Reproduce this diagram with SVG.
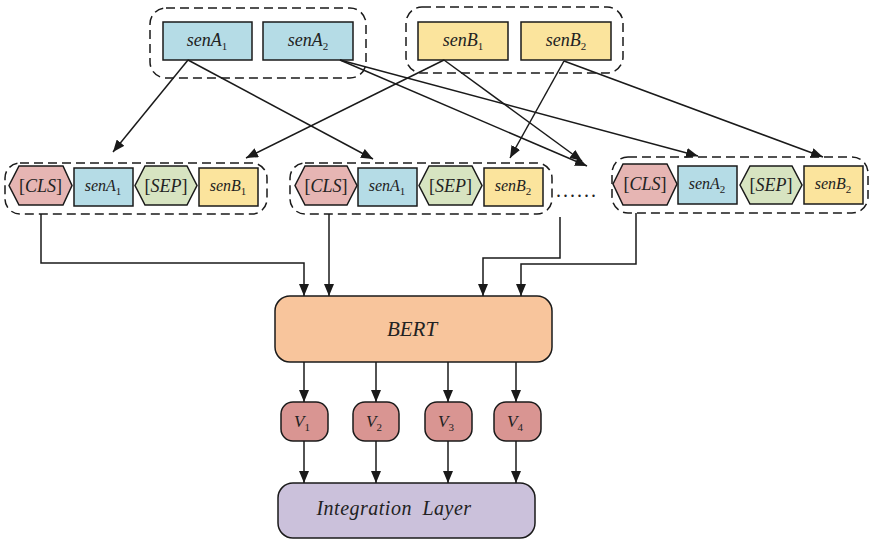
<svg xmlns="http://www.w3.org/2000/svg" width="872" height="541" viewBox="0 0 872 541">
  <style>
    .box { stroke: #1a1a1a; stroke-width: 1.5; }
    .a { fill: #b5dce6; }
    .b { fill: #fbe49d; }
    .cls { fill: #e6b5b3; }
    .sep { fill: #d7e4c1; }
    .grp { fill: none; stroke: #1a1a1a; stroke-width: 1.5; stroke-dasharray: 9 5; }
    .lbl { font-family: "Liberation Serif", "Times New Roman", serif; font-style: italic; fill: #222; text-anchor: middle; }
    .up { font-style: normal; }
    .sub { font-style: normal; font-size: 11px; }
    .conn { fill: none; stroke: #1a1a1a; stroke-width: 1.5; }
  </style>
  <defs>
    <marker id="arrow" viewBox="0 0 12 10" refX="12" refY="5" markerWidth="12" markerHeight="10" markerUnits="userSpaceOnUse" orient="auto">
      <path d="M0,0 L12,5 L0,10 z" fill="#1a1a1a"/>
    </marker>
  </defs>

  <rect width="872" height="541" fill="#ffffff"/>

  <!-- sentence sources -->
  <g id="groupA">
    <rect class="grp" x="150" y="8" width="216" height="70" rx="16"/>
  </g>
  <g id="senA1">
    <rect class="box a" x="163" y="22" width="89" height="38"/>
    <text class="lbl" x="207" y="46" font-size="18">senA<tspan class="sub" dy="4">1</tspan></text>
  </g>
  <g id="senA2">
    <rect class="box a" x="263" y="22" width="90" height="38"/>
    <text class="lbl" x="308" y="46" font-size="18">senA<tspan class="sub" dy="4">2</tspan></text>
  </g>
  <g id="groupB">
    <rect class="grp" x="406" y="7" width="217" height="66" rx="16"/>
  </g>
  <g id="senB1">
    <rect class="box b" x="418" y="22" width="90" height="38"/>
    <text class="lbl" x="463" y="46" font-size="18">senB<tspan class="sub" dy="4">1</tspan></text>
  </g>
  <g id="senB2">
    <rect class="box b" x="521" y="22" width="90" height="38"/>
    <text class="lbl" x="566" y="46" font-size="18">senB<tspan class="sub" dy="4">2</tspan></text>
  </g>

  <!-- pair 1: senA1 / senB1 -->
  <g id="pair1">
    <rect class="grp" x="5" y="163" width="262" height="51" rx="15"/>
    <polygon class="box cls" points="9,185.5 19,166 63,166 72,185.5 63,205 19,205"/>
    <text class="lbl" x="40.5" y="192" font-size="18"><tspan class="up">[</tspan>CLS<tspan class="up">]</tspan></text>
    <rect class="box a" x="74" y="168" width="59" height="38"/>
    <text class="lbl" x="103" y="191" font-size="16">senA<tspan class="sub" dy="4">1</tspan></text>
    <polygon class="box sep" points="135,185.5 145,166 187,166 197,185.5 187,205 145,205"/>
    <text class="lbl" x="166" y="192" font-size="18"><tspan class="up">[</tspan>SEP<tspan class="up">]</tspan></text>
    <rect class="box b" x="199" y="168" width="59" height="38"/>
    <text class="lbl" x="228" y="191" font-size="16">senB<tspan class="sub" dy="4">1</tspan></text>
  </g>

  <!-- pair 2: senA1 / senB2 -->
  <g id="pair2">
    <rect class="grp" x="290" y="163" width="262" height="51" rx="15"/>
    <polygon class="box cls" points="295,185.5 305,166 347,166 357,185.5 347,205 305,205"/>
    <text class="lbl" x="326" y="192" font-size="18"><tspan class="up">[</tspan>CLS<tspan class="up">]</tspan></text>
    <rect class="box a" x="358" y="168" width="59" height="38"/>
    <text class="lbl" x="387" y="191" font-size="16">senA<tspan class="sub" dy="4">1</tspan></text>
    <polygon class="box sep" points="419,185.5 429,166 472,166 482,185.5 472,205 429,205"/>
    <text class="lbl" x="450.5" y="192" font-size="18"><tspan class="up">[</tspan>SEP<tspan class="up">]</tspan></text>
    <rect class="box b" x="484" y="168" width="59" height="38"/>
    <text class="lbl" x="513" y="191" font-size="16">senB<tspan class="sub" dy="4">2</tspan></text>
  </g>

  <g id="ellipsis">
    <text class="lbl up" x="577" y="197" font-size="20" letter-spacing="2">......</text>
  </g>

  <!-- pair 3: senA2 / senB2 -->
  <g id="pair3">
    <rect class="grp" x="612" y="157" width="256" height="56" rx="16"/>
    <polygon class="box cls" points="613,184 623,164 667,164 677,184 667,205 623,205"/>
    <text class="lbl" x="645" y="190" font-size="18"><tspan class="up">[</tspan>CLS<tspan class="up">]</tspan></text>
    <rect class="box a" x="678" y="166" width="59" height="38"/>
    <text class="lbl" x="707" y="189" font-size="16">senA<tspan class="sub" dy="4">2</tspan></text>
    <polygon class="box sep" points="740,185 750,166 792,166 802,185 792,204 750,204"/>
    <text class="lbl" x="771" y="191" font-size="18"><tspan class="up">[</tspan>SEP<tspan class="up">]</tspan></text>
    <rect class="box b" x="804" y="166" width="59" height="38"/>
    <text class="lbl" x="833" y="189" font-size="16">senB<tspan class="sub" dy="4">2</tspan></text>
  </g>

  <!-- encoder -->
  <g id="bert">
    <rect class="box" fill="#f8c59c" x="275" y="296" width="277" height="66" rx="15"/>
    <text class="lbl" x="412" y="336" font-size="21">BERT</text>
  </g>

  <g id="v1">
    <rect class="box" fill="#d99592" x="281" y="402" width="47" height="39" rx="12"/>
    <text class="lbl" x="302" y="427" font-size="17">V<tspan class="sub" dy="4">1</tspan></text>
  </g>
  <g id="v2">
    <rect class="box" fill="#d99592" x="353" y="402" width="46" height="39" rx="12"/>
    <text class="lbl" x="374" y="427" font-size="17">V<tspan class="sub" dy="4">2</tspan></text>
  </g>
  <g id="v3">
    <rect class="box" fill="#d99592" x="425" y="402" width="47" height="39" rx="12"/>
    <text class="lbl" x="446" y="427" font-size="17">V<tspan class="sub" dy="4">3</tspan></text>
  </g>
  <g id="v4">
    <rect class="box" fill="#d99592" x="494" y="402" width="47" height="39" rx="12"/>
    <text class="lbl" x="515" y="427" font-size="17">V<tspan class="sub" dy="4">4</tspan></text>
  </g>

  <g id="integration">
    <rect class="box" fill="#cbc1db" x="278" y="483" width="257" height="55" rx="15"/>
    <text class="lbl" x="394" y="515" font-size="20" word-spacing="5" letter-spacing="0.5">Integration Layer</text>
  </g>

  <!-- connectors -->
  <g id="connectors" class="conn" marker-end="url(#arrow)">
    <line x1="188" y1="60" x2="113" y2="152"/>
    <line x1="188" y1="60" x2="373" y2="159"/>
    <line x1="444" y1="60" x2="246" y2="158"/>
    <line x1="444" y1="60" x2="582" y2="161"/>
    <line x1="340" y1="60" x2="587" y2="166"/>
    <line x1="340" y1="60" x2="698" y2="156"/>
    <line x1="564" y1="61" x2="510" y2="158"/>
    <line x1="564" y1="61" x2="823" y2="157"/>

    <polyline points="41,214 41,263 304,263 304,296"/>
    <polyline points="329,214 329,296"/>
    <polyline points="560,217 560,258 483,258 483,296"/>
    <polyline points="636,213 636,264 521,264 521,296"/>

    <line x1="304" y1="362" x2="304" y2="402"/>
    <line x1="376" y1="362" x2="376" y2="402"/>
    <line x1="448" y1="362" x2="448" y2="402"/>
    <line x1="516" y1="362" x2="516" y2="402"/>

    <line x1="304" y1="441" x2="304" y2="483"/>
    <line x1="376" y1="441" x2="376" y2="483"/>
    <line x1="448" y1="441" x2="448" y2="483"/>
    <line x1="516" y1="441" x2="516" y2="483"/>
  </g>
</svg>
